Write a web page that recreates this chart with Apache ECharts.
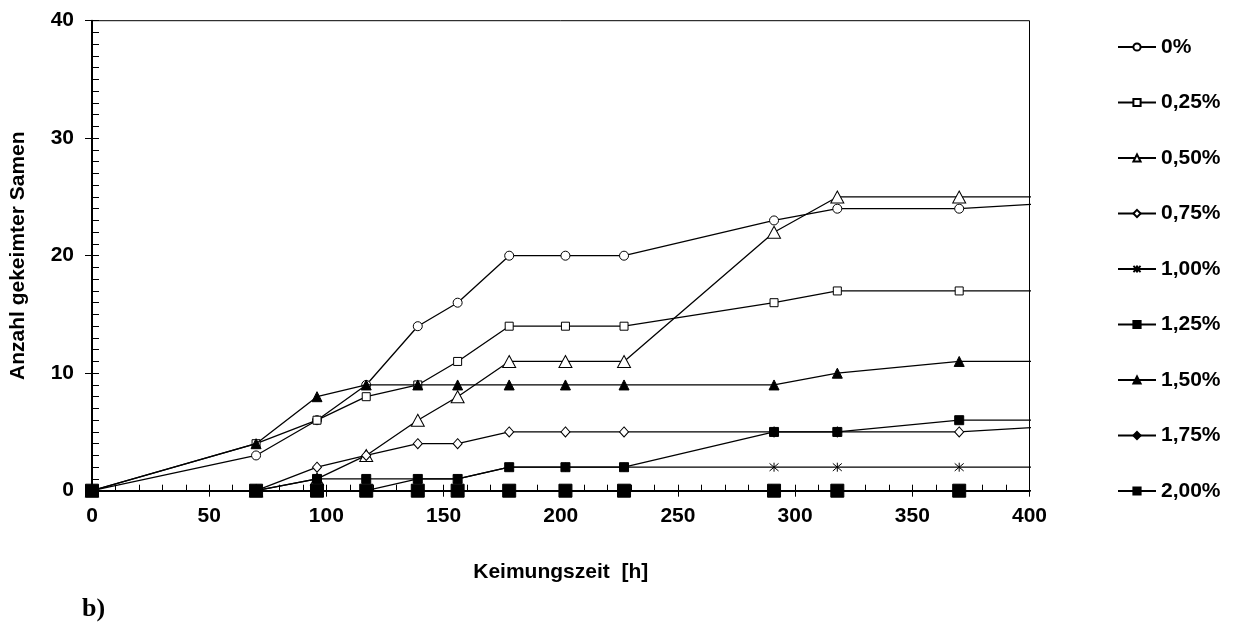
<!DOCTYPE html>
<html>
<head>
<meta charset="utf-8">
<script src="https://cdn.jsdelivr.net/npm/echarts@6/dist/echarts.min.js"></script>
<style>
html,body{margin:0;padding:0;background:#fff;}
#chart{width:1235px;height:633px;}
</style>
</head>
<body>
<div id="chart"></div>
<script>
// ---- data ----
const hours = [0, 70, 96, 117, 139, 156, 178, 202, 227, 291, 318, 370];
const lineEndHour = 403; // lines run a little past the plot frame
const seriesNames = ['0%', '0,25%', '0,50%', '0,75%', '1,00%', '1,25%', '1,50%', '1,75%', '2,00%'];
const v000 = [0, 3, 6, 9, 14, 16, 20, 20, 20, 23, 24, 24];
const v025 = [0, 4, 6, 8, 9, 11, 14, 14, 14, 16, 17, 17];
const v050 = [0, 0, 1, 3, 6, 8, 11, 11, 11, 22, 25, 25];
const v075 = [0, 0, 2, 3, 4, 4, 5, 5, 5, 5, 5, 5];
const v100 = [0, 0, 0, 0, 1, 1, 2, 2, 2, 2, 2, 2];
const v125 = [0, 0, 1, 1, 1, 1, 2, 2, 2, 5, 5, 6];
const v150 = [0, 4, 8, 9, 9, 9, 9, 9, 9, 9, 10, 11];
const v175 = [0, 0, 0, 0, 0, 0, 0, 0, 0, 0, 0, 0];
const v200 = [0, 0, 0, 0, 0, 0, 0, 0, 0, 0, 0, 0];
const lineEndValues = [24.4, 17, 25, 5.4, 2, 6, 11, 0, 0];
const xTicks = [0, 400, 50];   // min, max, interval
const yTicks = [0, 40, 10];

// ---- styling ----
const FONT = '"Liberation Sans", Arial, sans-serif';
const allValues = [v000, v025, v050, v075, v100, v125, v150, v175, v200];
const asterisk = 'path://M5,0L5,10M0.8,0.8L9.2,9.2M0.8,9.2L9.2,0.8';
const markerStyles = [
  { symbol: 'circle',   size: 9,       fill: '#fff' },
  { symbol: 'rect',     size: 8,       fill: '#fff' },
  { symbol: 'triangle', size: [13, 12], fill: '#fff' },
  { symbol: 'diamond',  size: [9, 10], fill: '#fff' },
  { symbol: asterisk,   size: 9,       fill: '#000' },
  { symbol: 'rect',     size: 9,       fill: '#000' },
  { symbol: 'triangle', size: [10, 10], fill: '#000' },
  { symbol: 'diamond',  size: [8, 9],  fill: '#000' },
  { symbol: 'rect',     size: 13,      fill: '#000' }
];

const series = seriesNames.map((name, i) => {
  const m = markerStyles[i];
  const data = hours.map((h, j) => [h, allValues[i][j]]);
  data.push({ value: [lineEndHour, lineEndValues[i]], symbol: 'none' });
  return {
    name: name,
    type: 'line',
    data: data,
    clip: false,
    symbol: m.symbol,
    symbolSize: m.size,
    showAllSymbol: true,
    lineStyle: { color: '#000', width: 1.3 },
    itemStyle: { color: m.fill, borderColor: '#000', borderWidth: 1 },
    emphasis: { disabled: true },
    z: 2 + i
  };
});

const chart = echarts.init(document.getElementById('chart'), null, { renderer: 'canvas' });
chart.setOption({
  animation: false,
  backgroundColor: '#fff',
  grid: {
    left: 86.7, right: 205.5, top: 20.7, bottom: 142.3,
    show: true, borderColor: '#000', borderWidth: 1, backgroundColor: 'transparent'
  },
  xAxis: [
    {
      type: 'value', min: xTicks[0], max: xTicks[1], interval: xTicks[2], position: 'bottom',
      axisLine: { show: true, lineStyle: { color: '#000', width: 2 } },
      axisTick: { show: true, inside: true, length: 6, lineStyle: { color: '#000', width: 1 } },
      minorTick: { show: true, splitNumber: 5, length: 6, lineStyle: { color: '#000', width: 1 } },
      splitLine: { show: false },
      axisLabel: { margin: 15, color: '#000', fontFamily: FONT, fontWeight: 'bold', fontSize: 21 },
      name: 'Keimungszeit  [h]', nameLocation: 'middle', nameGap: 71,
      nameTextStyle: { color: '#000', fontFamily: FONT, fontWeight: 'bold', fontSize: 21 }
    },
    {
      type: 'value', min: xTicks[0], max: xTicks[1], interval: xTicks[2], position: 'bottom',
      axisLine: { show: false },
      axisTick: { show: true, inside: false, length: 6, lineStyle: { color: '#000', width: 1 } },
      splitLine: { show: false },
      axisLabel: { show: false }
    }
  ],
  yAxis: [
    {
      type: 'value', min: yTicks[0], max: yTicks[1], interval: yTicks[2], position: 'left',
      axisLine: { show: true, lineStyle: { color: '#000', width: 2 } },
      axisTick: { show: true, inside: true, length: 7, lineStyle: { color: '#000', width: 1 } },
      minorTick: { show: true, splitNumber: 10, length: 7, lineStyle: { color: '#000', width: 1 } },
      splitLine: { show: false },
      axisLabel: { margin: 18, color: '#000', fontFamily: FONT, fontWeight: 'bold', fontSize: 21 },
      name: 'Anzahl gekeimter Samen', nameLocation: 'middle', nameGap: 63, nameRotate: 90,
      nameTextStyle: { color: '#000', fontFamily: FONT, fontWeight: 'bold', fontSize: 21 }
    },
    {
      type: 'value', min: yTicks[0], max: yTicks[1], interval: yTicks[2], position: 'left',
      axisLine: { show: false },
      axisTick: { show: true, inside: false, length: 7, lineStyle: { color: '#000', width: 1 } },
      splitLine: { show: false },
      axisLabel: { show: false }
    }
  ],
  legend: {
    orient: 'vertical', left: 1117, top: 36, padding: 0,
    itemWidth: 38, itemHeight: 9, itemGap: 33.5,
    data: seriesNames,
    selectedMode: false,
    textStyle: { color: '#000', fontFamily: FONT, fontWeight: 'bold', fontSize: 21, lineHeight: 22, padding: [0, 0, 0, 0] }
  },
  graphic: [
    {
      type: 'text', left: 82, top: 596,
      style: { text: 'b)', fill: '#000', font: 'bold 26px "Liberation Serif", "Times New Roman", serif' }
    }
  ],
  series: series
});
</script>
</body>
</html>
